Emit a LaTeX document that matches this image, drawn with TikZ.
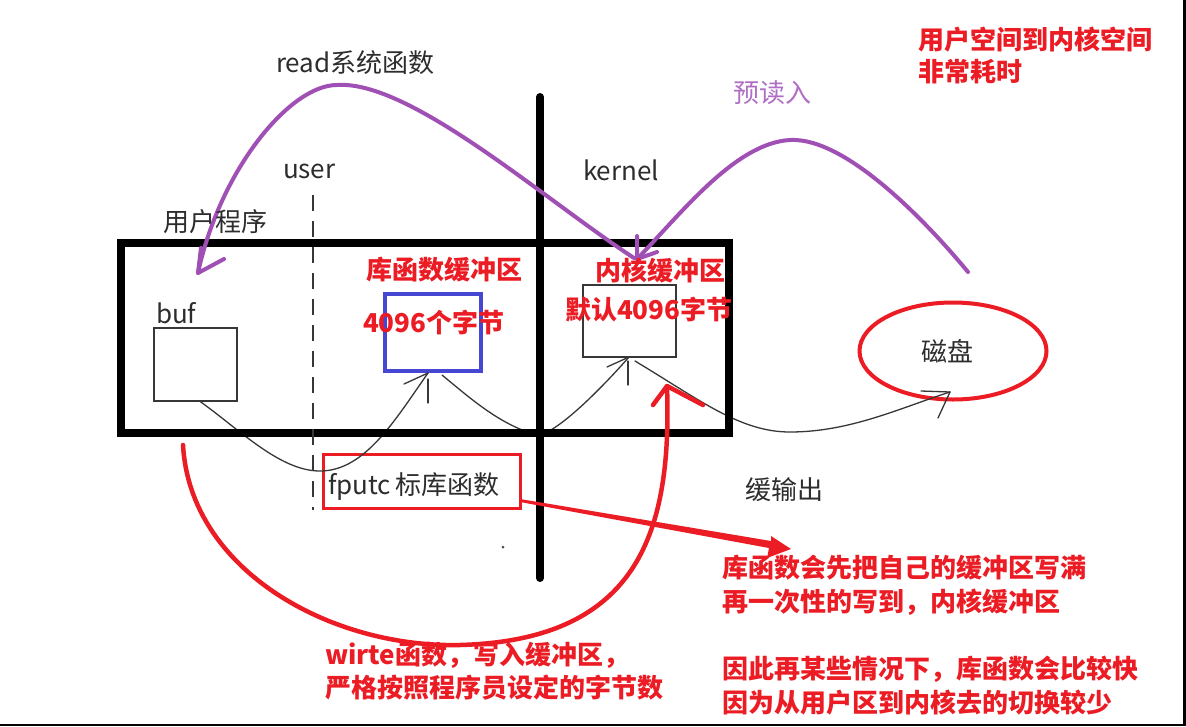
\documentclass[tikz,border=0pt]{standalone}
\usepackage{fontspec}
\setmainfont{Noto Sans CJK SC}
\usetikzlibrary{arrows.meta,calc,shapes.geometric}
\definecolor{redc}{RGB}{236,28,36}
\definecolor{purp}{RGB}{160,80,180}
\definecolor{purptext}{RGB}{175,110,195}
\definecolor{bluec}{RGB}{70,70,210}
\definecolor{graytext}{RGB}{45,45,45}
\definecolor{thinline}{RGB}{55,55,55}
\begin{document}
\begin{tikzpicture}[x=1pt,y=-1pt,
  txt/.style={inner sep=0pt, outer sep=0pt, font=\fontsize{26}{30}\selectfont, text=graytext},
  redtxt/.style={inner sep=0pt, outer sep=0pt, font=\fontsize{26}{30}\selectfont\bfseries, text=redc},
  thinbox/.style={draw=thinline, line width=1.4pt, inner sep=0pt, outer sep=0pt},
  thincurve/.style={draw=thinline, line width=1.3pt, line cap=round},
  purpline/.style={draw=purp, line width=4pt, line cap=round, line join=round},
  redline/.style={draw=redc, line width=4.5pt, line cap=round, line join=round},
]
\useasboundingbox (0,0) rectangle (1186,726);
\fill[white] (0,0) rectangle (1186,726);

% boxes
\node[thinbox, minimum width=83pt, minimum height=73pt] (buf) at (195.5,364.5) {};
\node[draw=bluec, line width=4.5pt, inner sep=0pt, outer sep=0pt, minimum width=96pt, minimum height=77pt] (libbuf) at (433,332.5) {};
\node[thinbox, minimum width=93pt, minimum height=72pt] (kbuf) at (629.5,321) {};
\node[ellipse, draw=redc, line width=4pt, inner sep=0pt, minimum width=187pt, minimum height=97pt] (disk) at (953,351) {};
\node[draw=redc, line width=3pt, inner sep=0pt, minimum width=197pt, minimum height=54pt] (fputcbox) at (421.5,481.5) {};

% arrow tips (named coordinates)
\coordinate (t1) at (428,373);
\coordinate (t2) at (629,357);
\coordinate (t3) at (950,392);
\coordinate (pA) at (198,273);
\coordinate (pB) at (637,259);
\coordinate (rtip) at (667,386);

% thin black curves
\draw[thincurve] ([xshift=4pt]buf.south) .. controls (240,430) and (280,471) .. (320,471)
   .. controls (365,471) and (395,420) .. (t1);
\draw[thincurve] (t1) -- ++(-24,11);
\draw[thincurve] ($(t1)+(0,6)$) -- ++(0,24);
\draw[thincurve] (442,375) .. controls (470,398) and (500,425) .. (537,435)
   .. controls (555,435) and (600,390) .. (t2);
\draw[thincurve] (t2) -- ++(-22,10);
\draw[thincurve] ($(t2)+(-1,4)$) -- ++(0,24);
\draw[thincurve] (635,361) .. controls (700,400) and (740,432) .. (790,432)
   .. controls (850,432) and (900,408) .. (t3);
\draw[thincurve] (t3) -- ++(-29,-1);
\draw[thincurve] (t3) -- ++(-12,26);

% thick frame and separator
\node[draw=black, line width=8pt, inner sep=0pt, minimum width=608pt, minimum height=190pt] (mainbox) at (425,338) {};
\coordinate (vtop) at (540,97);
\coordinate (vbot) at (540,578);
\draw[line width=8pt, line cap=round] (vtop) -- (vbot);
\coordinate (dtop) at (313,195);
\coordinate (dbot) at (313,510);
\draw[line width=2pt, draw=thinline, dash pattern=on 16pt off 10pt] (dtop) -- (dbot);

% purple curves
\draw[purpline] (634,258) .. controls (545,200) and (410,80) .. (337,85)
   .. controls (290,85) and (220,170) .. (pA);
\draw[purpline] (201,248) -- (pA) -- (224,259);
\draw[purpline] (968,272) .. controls (925,220) and (845,137) .. (790,140)
   .. controls (735,143) and (680,215) .. (pB);
\draw[purpline] (637,236) -- (pB) -- (657,252);

% red U curve
\draw[redline] (183,445) .. controls (190,570) and (330,648) .. (460,645)
   .. controls (640,640) and (672,530) .. (rtip);
\draw[redline] ($(rtip)+(-14,19)$) -- (rtip) -- ($(rtip)+(36,19)$);

% red wedge arrow
\fill[redc] (520,499) -- (771,541) -- (771,536) -- (791,549) -- (767,558) -- (769,548) -- (520,502) -- cycle;

% dot
\fill[black!70] (503,547) circle (1.5pt);

% image borders
\fill[black] (1183,0) rectangle (1186,726);
\fill[black] (0,724) rectangle (1186,726);

% texts
\node[txt, anchor=west] (readlbl) at (276,63) {read系统函数};
\node[txt, anchor=base west] (userlbl) at (283,178) {user};
\node[txt, anchor=base west] (kernellbl) at (583,180) {kernel};
\node[txt, anchor=west] (proglbl) at (163,222) {用户程序};
\node[txt, anchor=base west] (buflbl) at (156,323) {buf};
\node[redtxt, anchor=west] (libbuflbl) at (366,270) {库函数缓冲区};
\node[redtxt, anchor=west] (libsize) at (363,322) {4096个字节};
\node[redtxt, anchor=west] (kbuflbl) at (595,270) {内核缓冲区};
\node[redtxt, anchor=west] (ksize) at (565,310) {默认4096字节};
\node[txt] (disklbl) at (947,351) {磁盘};
\node[txt, anchor=west] (outlbl) at (745,490) {缓输出};
\node[txt, anchor=west] (fputc) at (328,487) {fputc\,标库函数};
\node[txt, anchor=west, text=purptext] (prelbl) at (733,93) {预读入};
\node[redtxt, anchor=west] (note1) at (918,40) {用户空间到内核空间};
\node[redtxt, anchor=west] (note2) at (918,72) {非常耗时};
\node[redtxt, anchor=west] (n3) at (722,568) {库函数会先把自己的缓冲区写满};
\node[redtxt, anchor=west] (n4) at (722,602) {再一次性的写到，内核缓冲区};
\node[redtxt, anchor=west] (n5) at (722,669) {因此再某些情况下，库函数会比较快};
\node[redtxt, anchor=west] (n6) at (722,703) {因为从用户区到内核去的切换较少};
\node[redtxt, anchor=west] (w1) at (325,655) {wirte函数，写入缓冲区，};
\node[redtxt, anchor=west] (w2) at (325,688) {严格按照程序员设定的字节数};
\end{tikzpicture}
\end{document}
